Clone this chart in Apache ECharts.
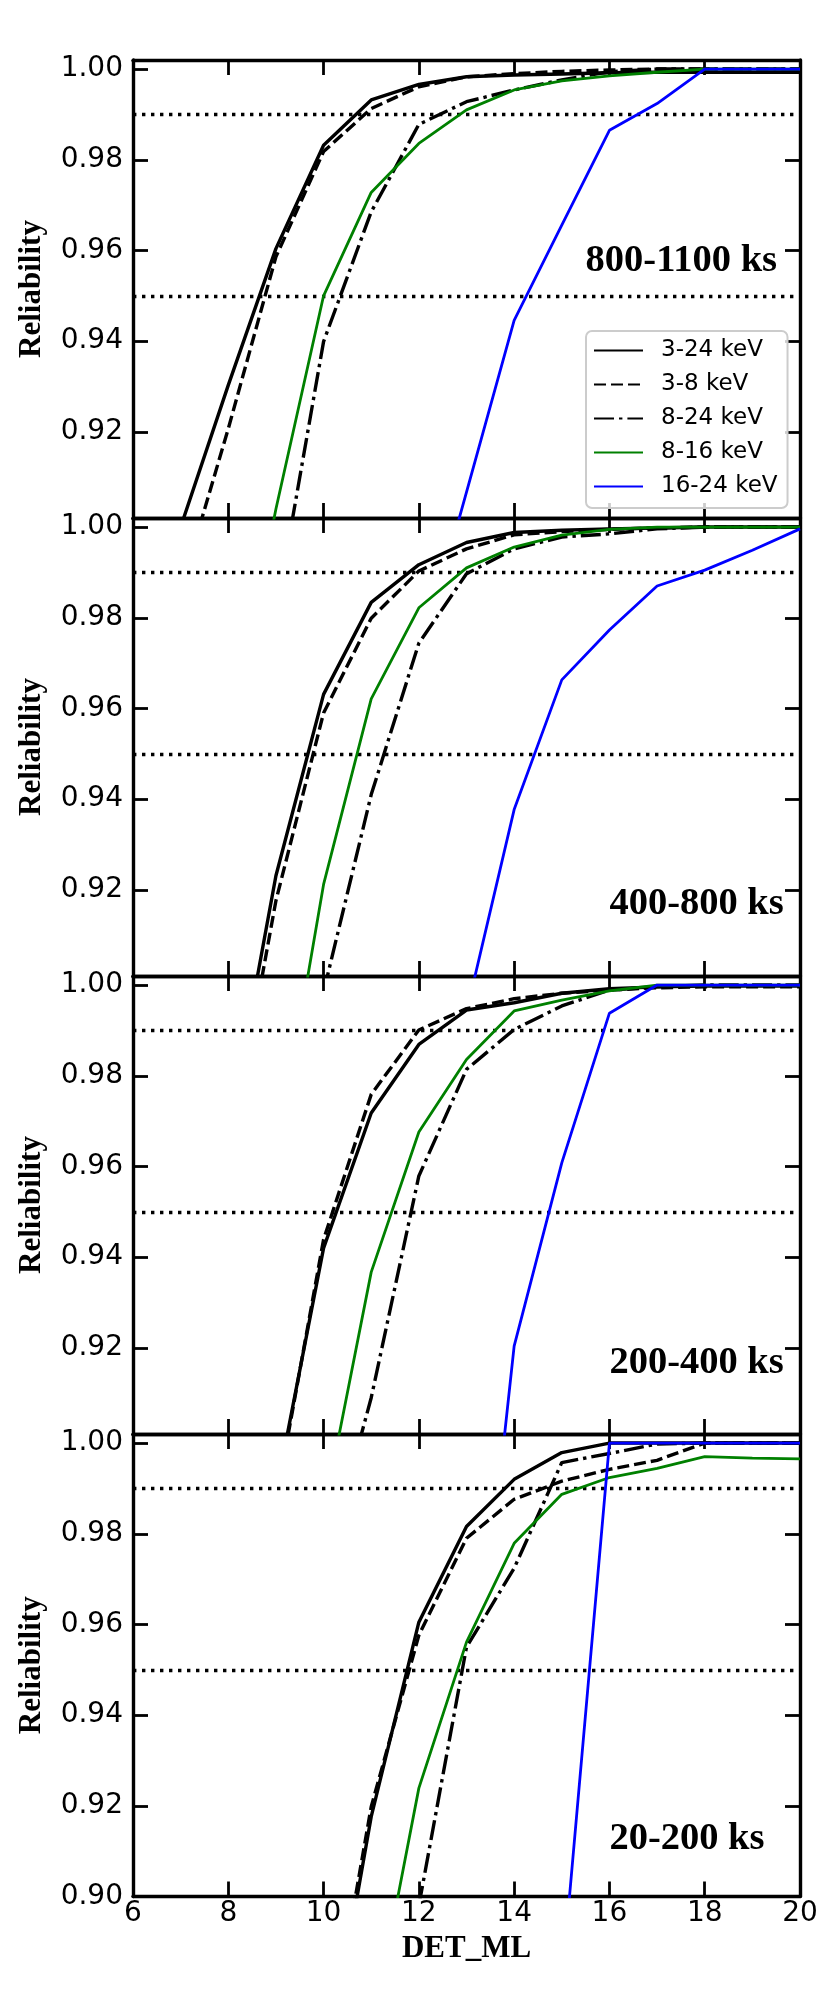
<!DOCTYPE html>
<html>
<head>
<meta charset="utf-8">
<script src="https://cdn.jsdelivr.net/npm/echarts@6/dist/echarts.min.js"></script>
<style>
html,body{margin:0;padding:0;background:#fff;}
#chart{width:830px;height:1993px;}
</style>
</head>
<body>
<div id="chart"></div>
<script>
// ---------------- data ----------------
const detML = [7, 8, 9, 10, 11, 12, 13, 14, 15, 16, 17, 18, 19, 20];
const bands = ['3-24 keV', '3-8 keV', '8-24 keV', '8-16 keV', '16-24 keV'];
const panelNames = ['800-1100 ks', '400-800 ks', '200-400 ks', '20-200 ks'];
const yTickValues = [0.90, 0.92, 0.94, 0.96, 0.98, 1.00];
const thresholds = [0.99, 0.95];

// panel 1: 800-1100 ks
const p1_3_24  = [0.899, 0.9303, 0.9604, 0.9832, 0.9932, 0.9966, 0.9983, 0.9987, 0.9989, 0.9992, 0.9993, 0.9993, 0.9993, 0.9993];
const p1_3_8   = [0.885, 0.9207, 0.9586, 0.9818, 0.9913, 0.9961, 0.9983, 0.9990, 0.9995, 0.9998, 1.0, 1.0, 1.0, 1.0];
const p1_8_24  = [null, 0.820, 0.880, 0.9399, 0.9685, 0.9878, 0.9928, 0.9954, 0.9976, 0.9994, 1.0, 1.0, 1.0, 1.0];
const p1_8_16  = [null, 0.850, 0.903, 0.9500, 0.9728, 0.9836, 0.9910, 0.9954, 0.9974, 0.9985, 0.9993, 1.0, 1.0, 1.0];
const p1_16_24 = [null, null, null, null, null, 0.869, 0.9067, 0.9446, 0.9656, 0.9865, 0.9924, 1.0, 1.0, 1.0];

// panel 2: 400-800 ks
const p2_3_24  = [null, 0.866, 0.9231, 0.9631, 0.9834, 0.9917, 0.9966, 0.9988, 0.9993, 0.9996, 0.9998, 1.0, 1.0, 1.0];
const p2_3_8   = [null, 0.860, 0.9176, 0.9590, 0.9799, 0.9903, 0.9952, 0.9983, 0.9990, 0.9995, 0.9998, 1.0, 1.0, 1.0];
const p2_8_24  = [null, null, null, 0.8975, 0.9410, 0.9744, 0.9897, 0.9952, 0.9978, 0.9985, 0.9996, 1.0, 1.0, 1.0];
const p2_8_16  = [null, null, 0.860, 0.9212, 0.9621, 0.9822, 0.9910, 0.9956, 0.9982, 0.9995, 1.0, 1.0, 1.0, 1.0];
const p2_16_24 = [null, null, null, null, null, null, 0.893, 0.9377, 0.9663, 0.9773, 0.9870, 0.9905, 0.9949, 0.9996];

// panel 3: 200-400 ks
const p3_3_24  = [null, null, 0.888, 0.9420, 0.9718, 0.9869, 0.9945, 0.9961, 0.9982, 0.9992, 0.9996, 0.9998, 0.9998, 0.9998];
const p3_3_8   = [null, null, 0.886, 0.9439, 0.9759, 0.9901, 0.9948, 0.9970, 0.9982, 0.9989, 0.9994, 0.9996, 0.9996, 0.9996];
const p3_8_24  = [null, null, null, 0.870, 0.909, 0.9579, 0.9814, 0.9902, 0.9954, 0.9989, 0.9996, 1.0, 1.0, 1.0];
const p3_8_16  = [null, null, null, 0.8835, 0.9367, 0.9676, 0.9836, 0.9943, 0.9967, 0.9987, 1.0, 1.0, 1.0, 1.0];
const p3_16_24 = [null, null, null, null, null, null, 0.823, 0.9204, 0.9608, 0.9938, 1.0, 1.0, 1.0, 1.0];

// panel 4: 20-200 ks
const p4_3_24  = [null, null, null, 0.858, 0.9176, 0.9605, 0.9816, 0.9920, 0.9979, 1.0, 1.0, 1.0, 1.0, 1.0];
const p4_3_8   = [null, null, null, 0.860, 0.9198, 0.9576, 0.9790, 0.9876, 0.9916, 0.9942, 0.9962, 1.0, 1.0, 1.0];
const p4_8_24  = [null, null, null, null, 0.840, 0.898, 0.9550, 0.9724, 0.9957, 0.9977, 0.9998, 1.0, 1.0, 1.0];
const p4_8_16  = [null, null, null, null, 0.8695, 0.9239, 0.9561, 0.9779, 0.9887, 0.9924, 0.9944, 0.9970, 0.9967, 0.9965];
const p4_16_24 = [null, null, null, null, null, null, null, null, 0.8807, 1.0, 1.0, 1.0, 1.0, 1.0];

const panelData = [
  [p1_3_24, p1_3_8, p1_8_24, p1_8_16, p1_16_24],
  [p2_3_24, p2_3_8, p2_8_24, p2_8_16, p2_16_24],
  [p3_3_24, p3_3_8, p3_8_24, p3_8_16, p3_16_24],
  [p4_3_24, p4_3_8, p4_8_24, p4_8_16, p4_16_24]
];
// label anchor (data units) for each panel's exposure text
const labelAnchorX = [15.50, 16.00, 16.00, 16.00];
const labelAnchorY = [0.9576, 0.9168, 0.9167, 0.9127];

// ---------------- styles ----------------
const bandStyle = [
  {color: '#000000', width: 3.4, type: 'solid'},
  {color: '#000000', width: 3.4, type: [12, 5]},
  {color: '#000000', width: 3.4, type: [20, 5, 3.4, 5]},
  {color: '#008000', width: 2.8, type: 'solid'},
  {color: '#0000ff', width: 2.8, type: 'solid'}
];
const gridTops = [60, 518, 976, 1434];
const gridHeights = [458, 458, 458, 462.5];
const yMins = [0.901, 0.901, 0.901, 0.90];
const yMax = 1.002;

const tickFont = 'DejaVu Sans';
const serif = '"Liberation Serif", "Times New Roman", serif';

const grids = [], xAxes = [], yAxes = [], series = [];
for (let p = 0; p < 4; p++) {
  grids.push({left: 133, width: 667, top: gridTops[p], height: gridHeights[p], containLabel: false});
  const isBottom = p === 3;
  const tickCommon = {show: true, inside: true, length: 15, lineStyle: {color: '#000', width: 2.8}};
  const lineCommon = {show: true, onZero: false, lineStyle: {color: '#000', width: 3.4}};
  xAxes.push({
    gridIndex: p, type: 'value', min: 6, max: 20, interval: 2, position: 'bottom',
    axisLine: lineCommon, axisTick: tickCommon, splitLine: {show: false},
    axisLabel: {show: isBottom, color: '#000', fontFamily: tickFont, fontSize: 28, margin: 3,
      formatter: v => String(v)},
    name: isBottom ? 'DET_ML' : '', nameLocation: 'middle', nameGap: 37,
    nameTextStyle: {fontFamily: serif, fontWeight: 'bold', fontSize: 31, color: '#000'}
  });
  xAxes.push({
    gridIndex: p, type: 'value', min: 6, max: 20, interval: 2, position: 'top',
    axisLine: lineCommon, axisTick: tickCommon, splitLine: {show: false}, axisLabel: {show: false}
  });
  const yTicks = yTickValues.filter(v => v >= yMins[p] - 1e-9);
  yAxes.push({
    gridIndex: p, type: 'value', min: yMins[p], max: yMax, position: 'left',
    axisLine: lineCommon,
    axisTick: Object.assign({}, tickCommon, {customValues: yTicks}),
    splitLine: {show: false},
    axisLabel: {show: true, customValues: yTicks, color: '#000', fontFamily: tickFont, fontSize: 28, margin: 10,
      formatter: v => Number(v).toFixed(2)},
    name: 'Reliability', nameLocation: 'middle', nameRotate: 90, nameGap: 86,
    nameTextStyle: {fontFamily: serif, fontWeight: 'bold', fontSize: 31, color: '#000'}
  });
  yAxes.push({
    gridIndex: p, type: 'value', min: yMins[p], max: yMax, position: 'right',
    axisLine: lineCommon,
    axisTick: Object.assign({}, tickCommon, {customValues: yTicks}),
    splitLine: {show: false}, axisLabel: {show: false}
  });
  // threshold dotted lines + panel label (carried by an empty helper series)
  series.push({
    type: 'line', xAxisIndex: 2 * p, yAxisIndex: 2 * p, data: [], silent: true, z: 1,
    markLine: {
      silent: true, symbol: ['none', 'none'], label: {show: false},
      lineStyle: {color: '#000', width: 3.4, type: [3.4, 5.6]},
      data: thresholds.map(t => ({yAxis: t}))
    },
    markPoint: {
      silent: true, symbol: 'circle', symbolSize: 0,
      label: {show: true, position: 'right', distance: 0, formatter: panelNames[p],
        fontFamily: serif, fontWeight: 'bold', fontSize: 38.5, color: '#000'},
      data: [{coord: [labelAnchorX[p], labelAnchorY[p]]}]
    }
  });
  for (let b = 0; b < 5; b++) {
    const vals = panelData[p][b];
    series.push({
      name: bands[b], type: 'line', xAxisIndex: 2 * p, yAxisIndex: 2 * p,
      data: detML.map((x, i) => [x, vals[i]]).filter(d => d[1] !== null),
      symbol: 'none', showSymbol: false, clip: true, z: 3 + b,
      lineStyle: {color: bandStyle[b].color, width: bandStyle[b].width, type: bandStyle[b].type},
      itemStyle: {color: bandStyle[b].color},
      emphasis: {disabled: true}, animation: false
    });
  }
}

const chart = echarts.init(document.getElementById('chart'), null, {renderer: 'canvas'});
chart.setOption({
  animation: false,
  backgroundColor: '#ffffff',
  grid: grids,
  xAxis: xAxes,
  yAxis: yAxes,
  legend: {
    data: bands, orient: 'vertical', left: 586, top: 331,
    padding: [8, 10, 10, 7], itemWidth: 49, itemHeight: 14, itemGap: 11,
    selectedMode: false, z: 20,
    itemStyle: {color: 'rgba(0,0,0,0)', borderWidth: 0, opacity: 0},
    backgroundColor: 'rgba(255,255,255,0.8)', borderColor: '#cccccc', borderWidth: 2, borderRadius: 6,
    textStyle: {fontFamily: tickFont, fontSize: 23, color: '#000', padding: [0, 0, 0, 13]}
  },
  series: series
});
</script>
</body>
</html>
